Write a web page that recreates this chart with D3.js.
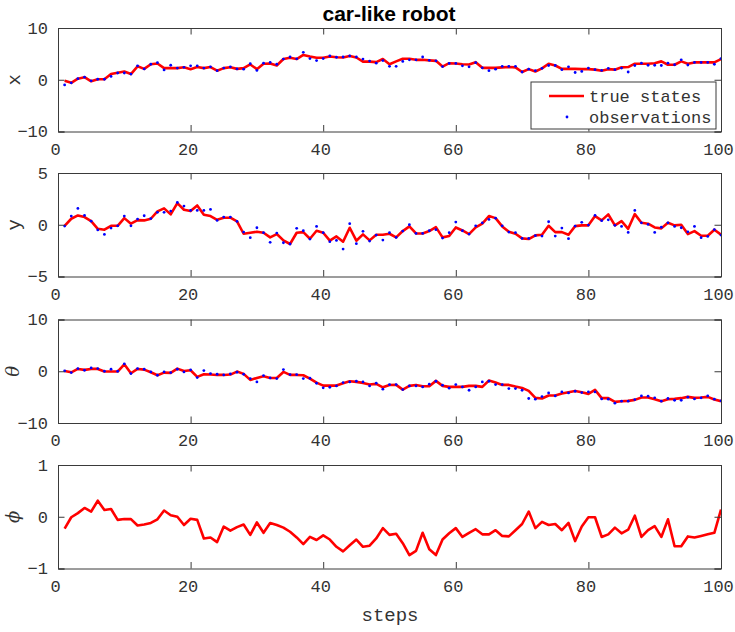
<!DOCTYPE html>
<html>
<head>
<meta charset="utf-8">
<script src="https://cdn.jsdelivr.net/npm/d3@7"></script>
<style>
  html, body { margin: 0; padding: 0; background: #fff; }
  svg { display: block; }
</style>
</head>
<body>
<svg id="chart" width="735" height="632"></svg>
<script>
// Time steps of the simulation
const steps = d3.range(1, 101);

// True state trajectories
const xTrue = [-0.2,-0.6,0.2,0.5,-0.3,0.1,0.1,1.1,1.35,1.6,1.1,2.6,2.1,3.0,3.15,2.25,2.25,2.25,2.4,2.05,
  2.45,2.25,2.45,1.75,2.25,2.4,2.1,2.25,2.95,2.05,3.1,3.15,2.75,4.0,4.25,4.0,4.8,4.5,4.25,4.25,
  4.5,4.35,4.3,4.6,4.3,3.5,3.5,3.4,4.0,3.0,3.55,4.05,4.05,3.85,3.85,3.75,3.65,2.55,3.2,3.15,
  3.0,2.95,3.4,2.3,2.3,2.3,2.4,2.45,2.4,1.5,2.05,1.6,2.2,3.1,2.75,2.1,2.1,2.1,2.05,2.05,
  1.95,1.75,2.05,1.95,2.4,2.45,3.1,3.1,3.1,3.2,3.55,2.9,2.9,3.55,3.1,3.35,3.35,3.35,3.35,4.0];
const yTrue = [-0.1,0.58,0.9,0.74,0.35,-0.39,-0.48,-0.1,-0.1,0.64,0.1,0.45,0.42,0.58,1.29,1.58,1.0,2.09,1.45,1.32,
  1.86,0.96,0.84,0.48,0.68,0.68,0.32,-0.87,-0.77,-0.68,-0.77,-1.22,-0.9,-1.51,-1.86,-0.77,-0.71,-1.35,-0.58,-0.77,
  -1.54,-1.13,-1.64,-0.29,-1.54,-0.93,-1.51,-0.96,-0.96,-0.87,-1.22,-0.61,-0.16,-0.84,-0.84,-0.61,-0.23,-1.22,-1.09,-0.26,
  -0.55,-0.9,-0.26,0.1,0.84,0.64,-0.16,-0.68,-0.87,-1.32,-1.38,-1.03,-0.96,-0.1,-0.71,-0.71,-0.96,-0.13,-0.06,-0.06,
  0.84,0.42,1.0,-0.06,0.35,-0.39,1.03,0.19,0.1,-0.26,-0.35,0.19,-0.06,0.0,-0.9,-0.61,-1.06,-1.06,-0.48,-0.96];
const thetaTrue = [0.06,-0.2,0.45,0.26,0.45,0.45,-0.06,-0.06,-0.06,1.35,-0.39,0.45,0.32,-0.2,-0.77,-0.26,-0.32,0.51,0.06,0.19,
  -1.09,-0.58,-0.64,-0.71,-0.71,-0.64,-0.06,-0.51,-1.67,-1.29,-0.96,-1.29,-1.29,-0.13,-0.71,-0.71,-0.77,-1.41,-2.19,-2.77,
  -2.77,-2.77,-2.32,-1.93,-2.06,-2.25,-2.57,-2.44,-3.1,-2.65,-2.64,-3.54,-2.83,-2.64,-2.89,-2.89,-1.86,-2.83,-3.02,-3.02,
  -3.02,-2.83,-2.83,-3.02,-1.8,-2.19,-2.64,-2.64,-2.96,-3.22,-3.8,-5.14,-5.27,-4.69,-4.69,-4.31,-4.05,-3.8,-4.05,-4.37,
  -3.6,-5.2,-5.2,-5.92,-5.79,-5.72,-5.53,-5.08,-5.08,-5.4,-5.79,-5.4,-5.34,-5.2,-4.95,-5.14,-5.08,-4.95,-5.47,-5.79];
const phiTrue = [-0.23,-0.01,0.07,0.17,0.1,0.31,0.13,0.15,-0.06,-0.045,-0.045,-0.17,-0.15,-0.12,-0.05,0.12,0.03,0.0,-0.16,-0.04,
  -0.06,-0.42,-0.40,-0.49,-0.19,-0.27,-0.2,-0.15,-0.35,-0.11,-0.31,-0.12,-0.16,-0.21,-0.29,-0.40,-0.53,-0.39,-0.45,-0.36,
  -0.44,-0.58,-0.67,-0.55,-0.44,-0.58,-0.56,-0.42,-0.22,-0.35,-0.33,-0.51,-0.74,-0.66,-0.31,-0.63,-0.74,-0.44,-0.32,-0.22,
  -0.39,-0.31,-0.24,-0.34,-0.34,-0.26,-0.37,-0.38,-0.26,-0.14,0.10,-0.22,-0.10,-0.16,-0.14,-0.26,-0.12,-0.47,-0.19,-0.01,
  -0.01,-0.39,-0.34,-0.21,-0.32,-0.25,0.02,-0.39,-0.26,-0.18,-0.39,-0.05,-0.57,-0.57,-0.38,-0.40,-0.37,-0.34,-0.31,0.14];

// Noisy observations of x, y and theta
const xObs = [-1.0,-0.6,0.2,0.5,-0.2,0.1,0.1,0.65,1.3,1.3,1.1,2.7,2.1,3.0,3.3,1.9,2.8,2.25,2.4,2.7,
  2.7,2.25,2.5,1.75,2.25,2.5,2.1,2.05,3.1,1.8,3.2,3.35,3.0,4.0,4.4,4.05,5.3,4.1,3.7,4.1,
  4.6,4.35,4.4,4.6,4.4,4.0,3.6,3.2,3.7,2.6,2.6,3.55,3.85,3.85,4.4,3.75,3.65,2.55,3.15,3.15,
  2.7,2.5,3.3,2.3,1.75,2.05,2.6,2.6,2.6,1.5,2.05,1.75,2.2,2.75,2.75,1.95,2.5,1.4,1.6,2.25,
  1.95,1.8,2.2,1.95,2.25,1.5,2.75,3.2,2.8,2.8,2.75,3.2,2.9,3.85,2.85,3.35,3.35,3.35,3.0,4.1];
const yObs = [-0.13,0.84,1.58,0.9,0.35,-0.5,-0.93,-0.32,-0.1,0.84,-0.1,0.55,0.87,0.6,1.2,1.2,1.32,2.15,1.8,1.38,
  1.38,1.38,1.48,0.42,0.74,0.74,0.32,-0.71,-1.25,-0.29,-0.77,-1.7,-0.8,-1.74,-1.86,-0.35,-0.58,-1.38,-0.16,-0.77,
  -1.64,-1.51,-2.35,0.1,-1.83,-0.64,-1.58,-1.0,-1.48,-0.77,-1.22,-0.61,0.0,-0.84,-0.84,-0.58,-0.48,-1.29,-0.77,0.26,
  -0.58,-0.9,-0.1,0.19,0.51,0.64,-0.1,-0.71,-0.77,-1.32,-1.32,-1.06,-1.09,0.29,-1.09,-0.32,-1.35,-0.13,0.23,-0.03,
  0.9,0.39,0.48,-0.06,-0.16,-0.74,1.38,0.19,0.03,-0.74,-0.23,0.19,-0.16,-0.29,-0.68,-0.16,-1.25,-1.13,-0.48,-1.0];
const thetaObs = [0.06,-0.26,0.51,0.19,0.64,0.51,0.0,0.39,0.0,1.41,-0.45,0.51,0.39,-0.13,-0.77,-0.13,-0.26,0.39,-0.13,0.26,
  -1.22,0.13,-0.45,-0.58,-0.71,-0.51,-0.19,-0.58,-1.41,-2.06,-0.84,-1.29,-1.41,0.32,-0.64,-0.64,-1.41,-1.35,-2.32,-3.2,
  -3.09,-2.83,-2.19,-2.06,-1.93,-2.06,-2.83,-2.3,-3.47,-2.57,-2.57,-3.54,-2.83,-2.83,-3.02,-2.5,-1.93,-2.7,-3.28,-2.57,
  -3.02,-3.67,-3.02,-2.06,-1.93,-2.57,-2.57,-3.34,-3.34,-3.67,-5.27,-5.4,-4.9,-4.18,-4.76,-3.99,-4.18,-3.86,-4.12,-3.99,
  -3.99,-5.34,-5.4,-6.17,-5.79,-5.79,-5.47,-4.76,-4.82,-5.14,-5.79,-5.27,-5.6,-5.6,-5.01,-5.34,-5.14,-4.76,-5.4,-5.72];

// Axis tick values
const xTicks = [0, 20, 40, 60, 80, 100];
const panels = [
  { label: "x", italic: false, domain: [-10, 10], ticks: [-10, 0, 10], truth: xTrue, obs: xObs },
  { label: "y", italic: false, domain: [-5, 5], ticks: [-5, 0, 5], truth: yTrue, obs: yObs },
  { label: "θ", italic: true, domain: [-10, 10], ticks: [-10, 0, 10], truth: thetaTrue, obs: thetaObs },
  { label: "\u03D5", italic: true, domain: [-1, 1], ticks: [-1, 0, 1], truth: phiTrue, obs: null }
];

const svg = d3.select("#chart");
const left = 58, right = 721, panelH = 103.5;
const tops = [28, 173, 319.5, 465];
const axisColor = "#3a3a3a";
const textColor = "#333333";
const mono = '"Liberation Mono", "DejaVu Sans Mono", monospace';
const tickLen = 6.5;

const x = d3.scaleLinear().domain([0, 100]).range([left, right]);

// Title
svg.append("text")
  .attr("x", 389).attr("y", 21)
  .attr("text-anchor", "middle")
  .style("font-family", '"Liberation Sans", Arial, sans-serif')
  .style("font-weight", "bold").style("font-size", "21px")
  .style("fill", "#000")
  .text("car-like robot");

const fmt = v => (v < 0 ? "\u2212" + Math.abs(v) : String(v));

panels.forEach((p, i) => {
  const top = tops[i], bottom = top + panelH;
  const y = d3.scaleLinear().domain(p.domain).range([bottom, top]);
  const g = svg.append("g");

  // Data: truth line and observation dots
  const clipId = "clip" + i;
  g.append("clipPath").attr("id", clipId)
    .append("rect").attr("x", left).attr("y", top).attr("width", right - left).attr("height", panelH);

  const plot = g.append("g").attr("clip-path", `url(#${clipId})`);
  const line = d3.line().x((d, j) => x(steps[j])).y(d => y(d));
  plot.append("path")
    .datum(p.truth)
    .attr("d", line)
    .attr("fill", "none")
    .attr("stroke", "#ff0000")
    .attr("stroke-width", 2.6)
    .attr("stroke-linejoin", "round");

  if (p.obs) {
    plot.selectAll("circle.obs")
      .data(p.obs)
      .join("circle")
      .attr("class", "obs")
      .attr("cx", (d, j) => x(steps[j]))
      .attr("cy", d => y(d))
      .attr("r", 1.4)
      .attr("fill", "#0000ff");
  }

  // Axes: bottom labels plus mirrored inward ticks
  const axB = d3.axisBottom(x).tickValues(xTicks).tickSize(-tickLen).tickPadding(11).tickFormat(d3.format("d"));
  const axT = d3.axisTop(x).tickValues(xTicks).tickSize(-tickLen).tickFormat("");
  const axL = d3.axisLeft(y).tickValues(p.ticks).tickSize(-tickLen).tickPadding(10).tickFormat(fmt);
  const axR = d3.axisRight(y).tickValues(p.ticks).tickSize(-tickLen).tickFormat("");

  const gb = g.append("g").attr("transform", `translate(0,${bottom})`).call(axB);
  const gt = g.append("g").attr("transform", `translate(0,${top})`).call(axT);
  const gl = g.append("g").attr("transform", `translate(${left},0)`).call(axL);
  const gr = g.append("g").attr("transform", `translate(${right},0)`).call(axR);

  [gb, gt, gl, gr].forEach(a => {
    a.select(".domain").attr("stroke", axisColor).attr("stroke-width", 1);
    a.selectAll(".tick line").attr("stroke", axisColor).attr("stroke-width", 1);
    a.selectAll(".tick text")
      .style("font-family", mono).style("font-size", "17px").style("fill", textColor);
  });
  gb.selectAll(".tick text").attr("dy", "0.71em").attr("x", -3);

  // Y axis label
  const lab = svg.append("text")
    .attr("transform", `translate(${i >= 2 ? 19 : 20},${(top + bottom) / 2}) rotate(-90)`)
    .attr("text-anchor", "middle")
    .style("fill", textColor)
    .text(p.label);
  if (p.italic) {
    lab.style("font-family", '"DejaVu Serif", "Liberation Serif", serif')
      .style("font-style", "italic").style("font-size", "18px");
  } else {
    lab.style("font-family", mono).style("font-size", "19px");
  }

  // Legend in the first panel
  if (i === 0) {
    const lg = svg.append("g");
    lg.append("rect")
      .attr("x", 531).attr("y", 82).attr("width", 185).attr("height", 47)
      .attr("fill", "#fff").attr("stroke", axisColor).attr("stroke-width", 1);
    lg.append("line")
      .attr("x1", 549).attr("x2", 584).attr("y1", 96).attr("y2", 96)
      .attr("stroke", "#ff0000").attr("stroke-width", 2.6);
    lg.append("circle").attr("cx", 567).attr("cy", 117).attr("r", 1.4).attr("fill", "#0000ff");
    lg.append("text").attr("x", 589).attr("y", 102)
      .style("font-family", mono).style("font-size", "17px").style("fill", textColor)
      .text("true states");
    lg.append("text").attr("x", 589).attr("y", 123)
      .style("font-family", mono).style("font-size", "17px").style("fill", textColor)
      .text("observations");
  }
});

// X axis label
svg.append("text")
  .attr("x", 390).attr("y", 621)
  .attr("text-anchor", "middle")
  .style("font-family", mono).style("font-size", "19px").style("fill", textColor)
  .text("steps");
</script>
</body>
</html>
